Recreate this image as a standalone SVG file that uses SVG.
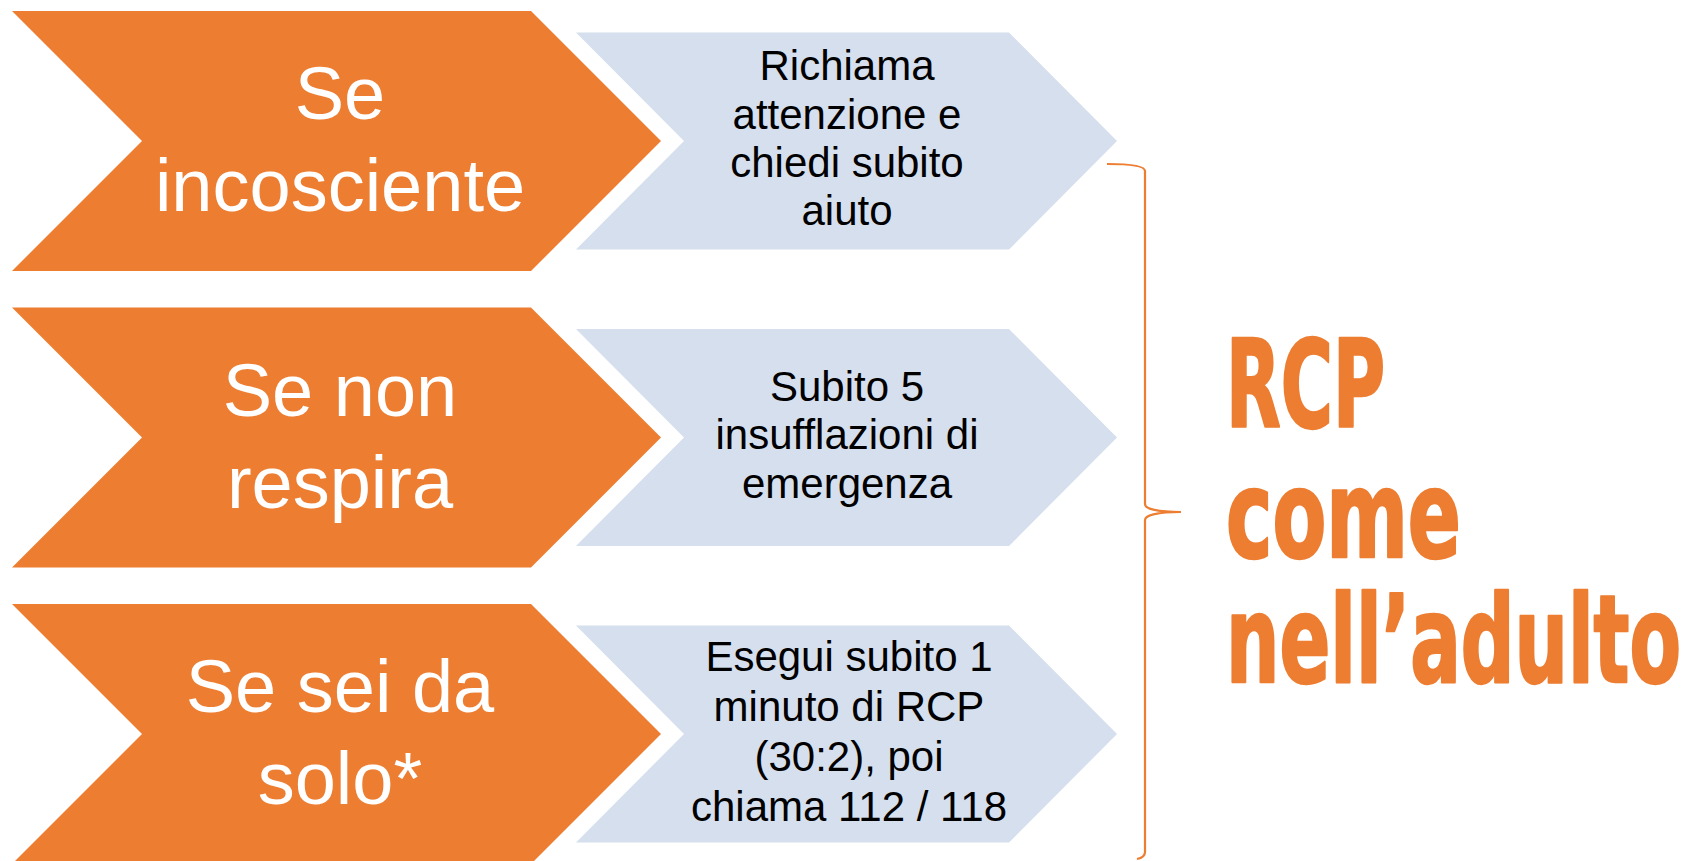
<svg xmlns="http://www.w3.org/2000/svg" width="1689" height="861" viewBox="0 0 1689 861">
<style>
.or{fill:#ED7D31}
.bl{fill:#D5DFED}
.ot{font-family:"Liberation Sans",Arial,sans-serif;font-size:74px;fill:#FFFFFF;text-anchor:middle}
.bt{font-family:"Liberation Sans",Arial,sans-serif;font-size:42px;fill:#000000;text-anchor:middle}
.big{font-family:"Liberation Sans Narrow","DejaVu Sans Condensed","Liberation Sans",sans-serif;font-weight:bold;font-size:122px;fill:#ED7D31;stroke:#ED7D31;stroke-width:2.5;stroke-linejoin:round}
.brace{fill:none;stroke:#ED7D31;stroke-width:2.2}
</style>
<rect width="1689" height="861" fill="#FFFFFF"/>
<g id="row1-cond">
<polygon class="or" points="12,11 531,11 661,141 531,271 12,271 142,141"/>
<text class="ot" x="340" y="119">Se</text>
<text class="ot" x="340" y="211">incosciente</text>
</g>
<g id="row1-action">
<polygon class="bl" points="576,32.5 1009,32.5 1117,141 1009,249.5 576,249.5 684,141"/>
<text class="bt" x="847" y="80">Richiama</text>
<text class="bt" x="847" y="128.5">attenzione e</text>
<text class="bt" x="847" y="177">chiedi subito</text>
<text class="bt" x="847" y="225">aiuto</text>
</g>
<g id="row2-cond">
<polygon class="or" points="12,307.5 531,307.5 661,437.5 531,567.5 12,567.5 142,437.5"/>
<text class="ot" x="340" y="415.5">Se non</text>
<text class="ot" x="340" y="507.5">respira</text>
</g>
<g id="row2-action">
<polygon class="bl" points="576,329 1009,329 1117,437.5 1009,546 576,546 684,437.5"/>
<text class="bt" x="847" y="400.5">Subito 5</text>
<text class="bt" x="847" y="449">insufflazioni di</text>
<text class="bt" x="847" y="497.5">emergenza</text>
</g>
<g id="row3-cond">
<polygon class="or" points="12,604 531,604 661,734 531,864 12,864 142,734"/>
<text class="ot" x="340" y="712">Se sei da</text>
<text class="ot" x="340" y="804">solo*</text>
</g>
<g id="row3-action">
<polygon class="bl" points="576,625.5 1009,625.5 1117,734 1009,842.5 576,842.5 684,734"/>
<text class="bt" x="849" y="671">Esegui subito 1</text>
<text class="bt" x="849" y="721">minuto di RCP</text>
<text class="bt" x="849" y="771">(30:2), poi</text>
<text class="bt" x="849" y="821">chiama 112 / 118</text>
</g>
<g id="connectors">
<path class="brace" d="M1107,164 C1132,164 1145,166 1145,171 L1145,504 C1145,509 1158,512 1181,512 C1158,512 1145,515 1145,520 L1145,852 C1145,856 1142,858 1137,859"/>
</g>
<g id="title">
<text class="big" x="1226" y="427" textLength="159" lengthAdjust="spacingAndGlyphs">RCP</text>
<text class="big" x="1226" y="557" textLength="235" lengthAdjust="spacingAndGlyphs">come</text>
<text class="big" x="1226" y="682" textLength="455" lengthAdjust="spacingAndGlyphs">nell’adulto</text>
</g>
</svg>
